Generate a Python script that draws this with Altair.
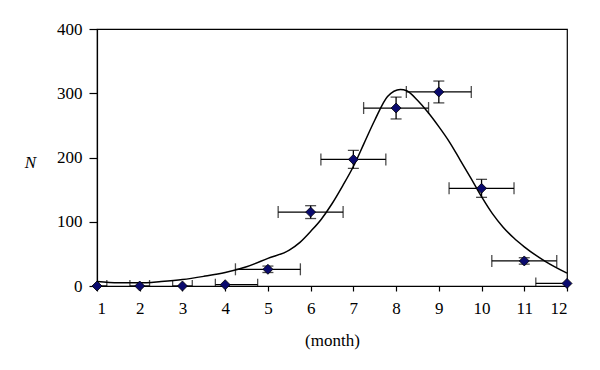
import altair as alt
import pandas as pd

# ---- data ----
month = [1, 2, 3, 4, 5, 6, 7, 8, 9, 10, 11, 12]
count = [0, 0, 0, 2, 26, 115, 197, 277, 302, 152, 39, 4]
y_err = [0, 0, 0, 0, 5, 10, 14, 17, 17, 14, 5, 0]
x_lo = [0.77, 1.77, 2.77, 3.77, 4.24, 5.24, 6.24, 7.24, 8.24, 9.24, 10.24, 11.27]
x_hi = [1.23, 2.23, 3.23, 4.76, 5.76, 6.76, 7.76, 8.76, 9.76, 10.76, 11.76, 12.25]

curve_x = [1, 1.5, 2, 2.5, 3, 3.5, 4, 4.5, 5, 5.5, 5.75, 6, 6.25, 6.5, 6.75, 7, 7.25,
           7.5, 7.8, 8.1, 8.25, 8.5, 8.75, 9, 9.25, 9.5, 9.75, 10, 10.25, 10.5,
           10.75, 11, 11.5, 12]
curve_y = [7, 5, 5, 7, 10, 15, 21, 30, 43, 56, 68, 85, 104, 128, 156, 186, 222,
           258, 295, 306, 304, 289, 270, 248, 224, 196, 168, 139, 113, 92,
           75, 61, 38, 20]

pts = pd.DataFrame({"month": month, "N": count, "yerr": y_err, "xlo": x_lo, "xhi": x_hi})
pts["ylo"] = pts["N"] - pts["yerr"]
pts["yhi"] = pts["N"] + pts["yerr"]
curve = pd.DataFrame({"month": curve_x, "N": curve_y})

FONT = "Liberation Serif, DejaVu Serif, serif"

xs = alt.Scale(domain=[1, 12], nice=False)
ys = alt.Scale(domain=[0, 400], nice=False)

xax = alt.Axis(values=month, format="d", title="(month)", grid=False,
               tickSize=5, labelPadding=9, titleFontWeight="normal",
               titleY=54, titleBaseline="middle",
               labelFont=FONT, titleFont=FONT, labelFontSize=17, titleFontSize=17)
yax = alt.Axis(values=[0, 100, 200, 300, 400], title="N", grid=False,
               tickSize=8, labelPadding=7, titleAngle=0, titleFontStyle="italic",
               titleFontWeight="normal", titleX=-67, titleY=133,
               titleBaseline="middle", titleAlign="center",
               labelFont=FONT, titleFont=FONT, labelFontSize=17, titleFontSize=17)

base = alt.Chart(pts)

hbar = base.mark_rule(color="black", strokeWidth=1.3, clip=True).encode(
    x=alt.X("xlo:Q", scale=xs, axis=xax), x2="xhi:Q",
    y=alt.Y("N:Q", scale=ys, axis=yax))
hcap_lo = base.mark_tick(color="black", orient="vertical", size=12, thickness=1.3, clip=True).encode(
    x=alt.X("xlo:Q", scale=xs), y=alt.Y("N:Q", scale=ys))
hcap_hi = base.mark_tick(color="black", orient="vertical", size=12, thickness=1.3, clip=True).encode(
    x=alt.X("xhi:Q", scale=xs), y=alt.Y("N:Q", scale=ys))

vb = base.transform_filter("datum.yerr > 0")
vbar = vb.mark_rule(color="black", strokeWidth=1.3).encode(
    x=alt.X("month:Q", scale=xs), y=alt.Y("ylo:Q", scale=ys), y2="yhi:Q")
vcap_lo = vb.mark_tick(color="black", orient="horizontal", size=11, thickness=1.3).encode(
    x=alt.X("month:Q", scale=xs), y=alt.Y("ylo:Q", scale=ys))
vcap_hi = vb.mark_tick(color="black", orient="horizontal", size=11, thickness=1.3).encode(
    x=alt.X("month:Q", scale=xs), y=alt.Y("yhi:Q", scale=ys))

line = alt.Chart(curve).mark_line(color="black", strokeWidth=1.5, interpolate="monotone").encode(
    x=alt.X("month:Q", scale=xs), y=alt.Y("N:Q", scale=ys))

diam = base.mark_point(shape="diamond", filled=True, size=100, color="#0a0a6e",
                       stroke="black", strokeWidth=0.8, opacity=1).encode(
    x=alt.X("month:Q", scale=xs), y=alt.Y("N:Q", scale=ys))

chart = alt.layer(hbar, hcap_lo, hcap_hi, vbar, vcap_lo, vcap_hi, line, diam).properties(
    width=470, height=257,
    autosize=alt.AutoSizeParams(type="none"),
    padding={"left": 89, "top": 21, "right": 25, "bottom": 75},
).configure(background="white").configure_view(
    stroke="black", strokeWidth=1.2
).configure_axis(
    domainColor="black", tickColor="black", labelColor="black", titleColor="black",
    domainWidth=1.2, tickWidth=1.2,
)

chart.save("out.html", embed_options={"renderer": "svg", "actions": False})
